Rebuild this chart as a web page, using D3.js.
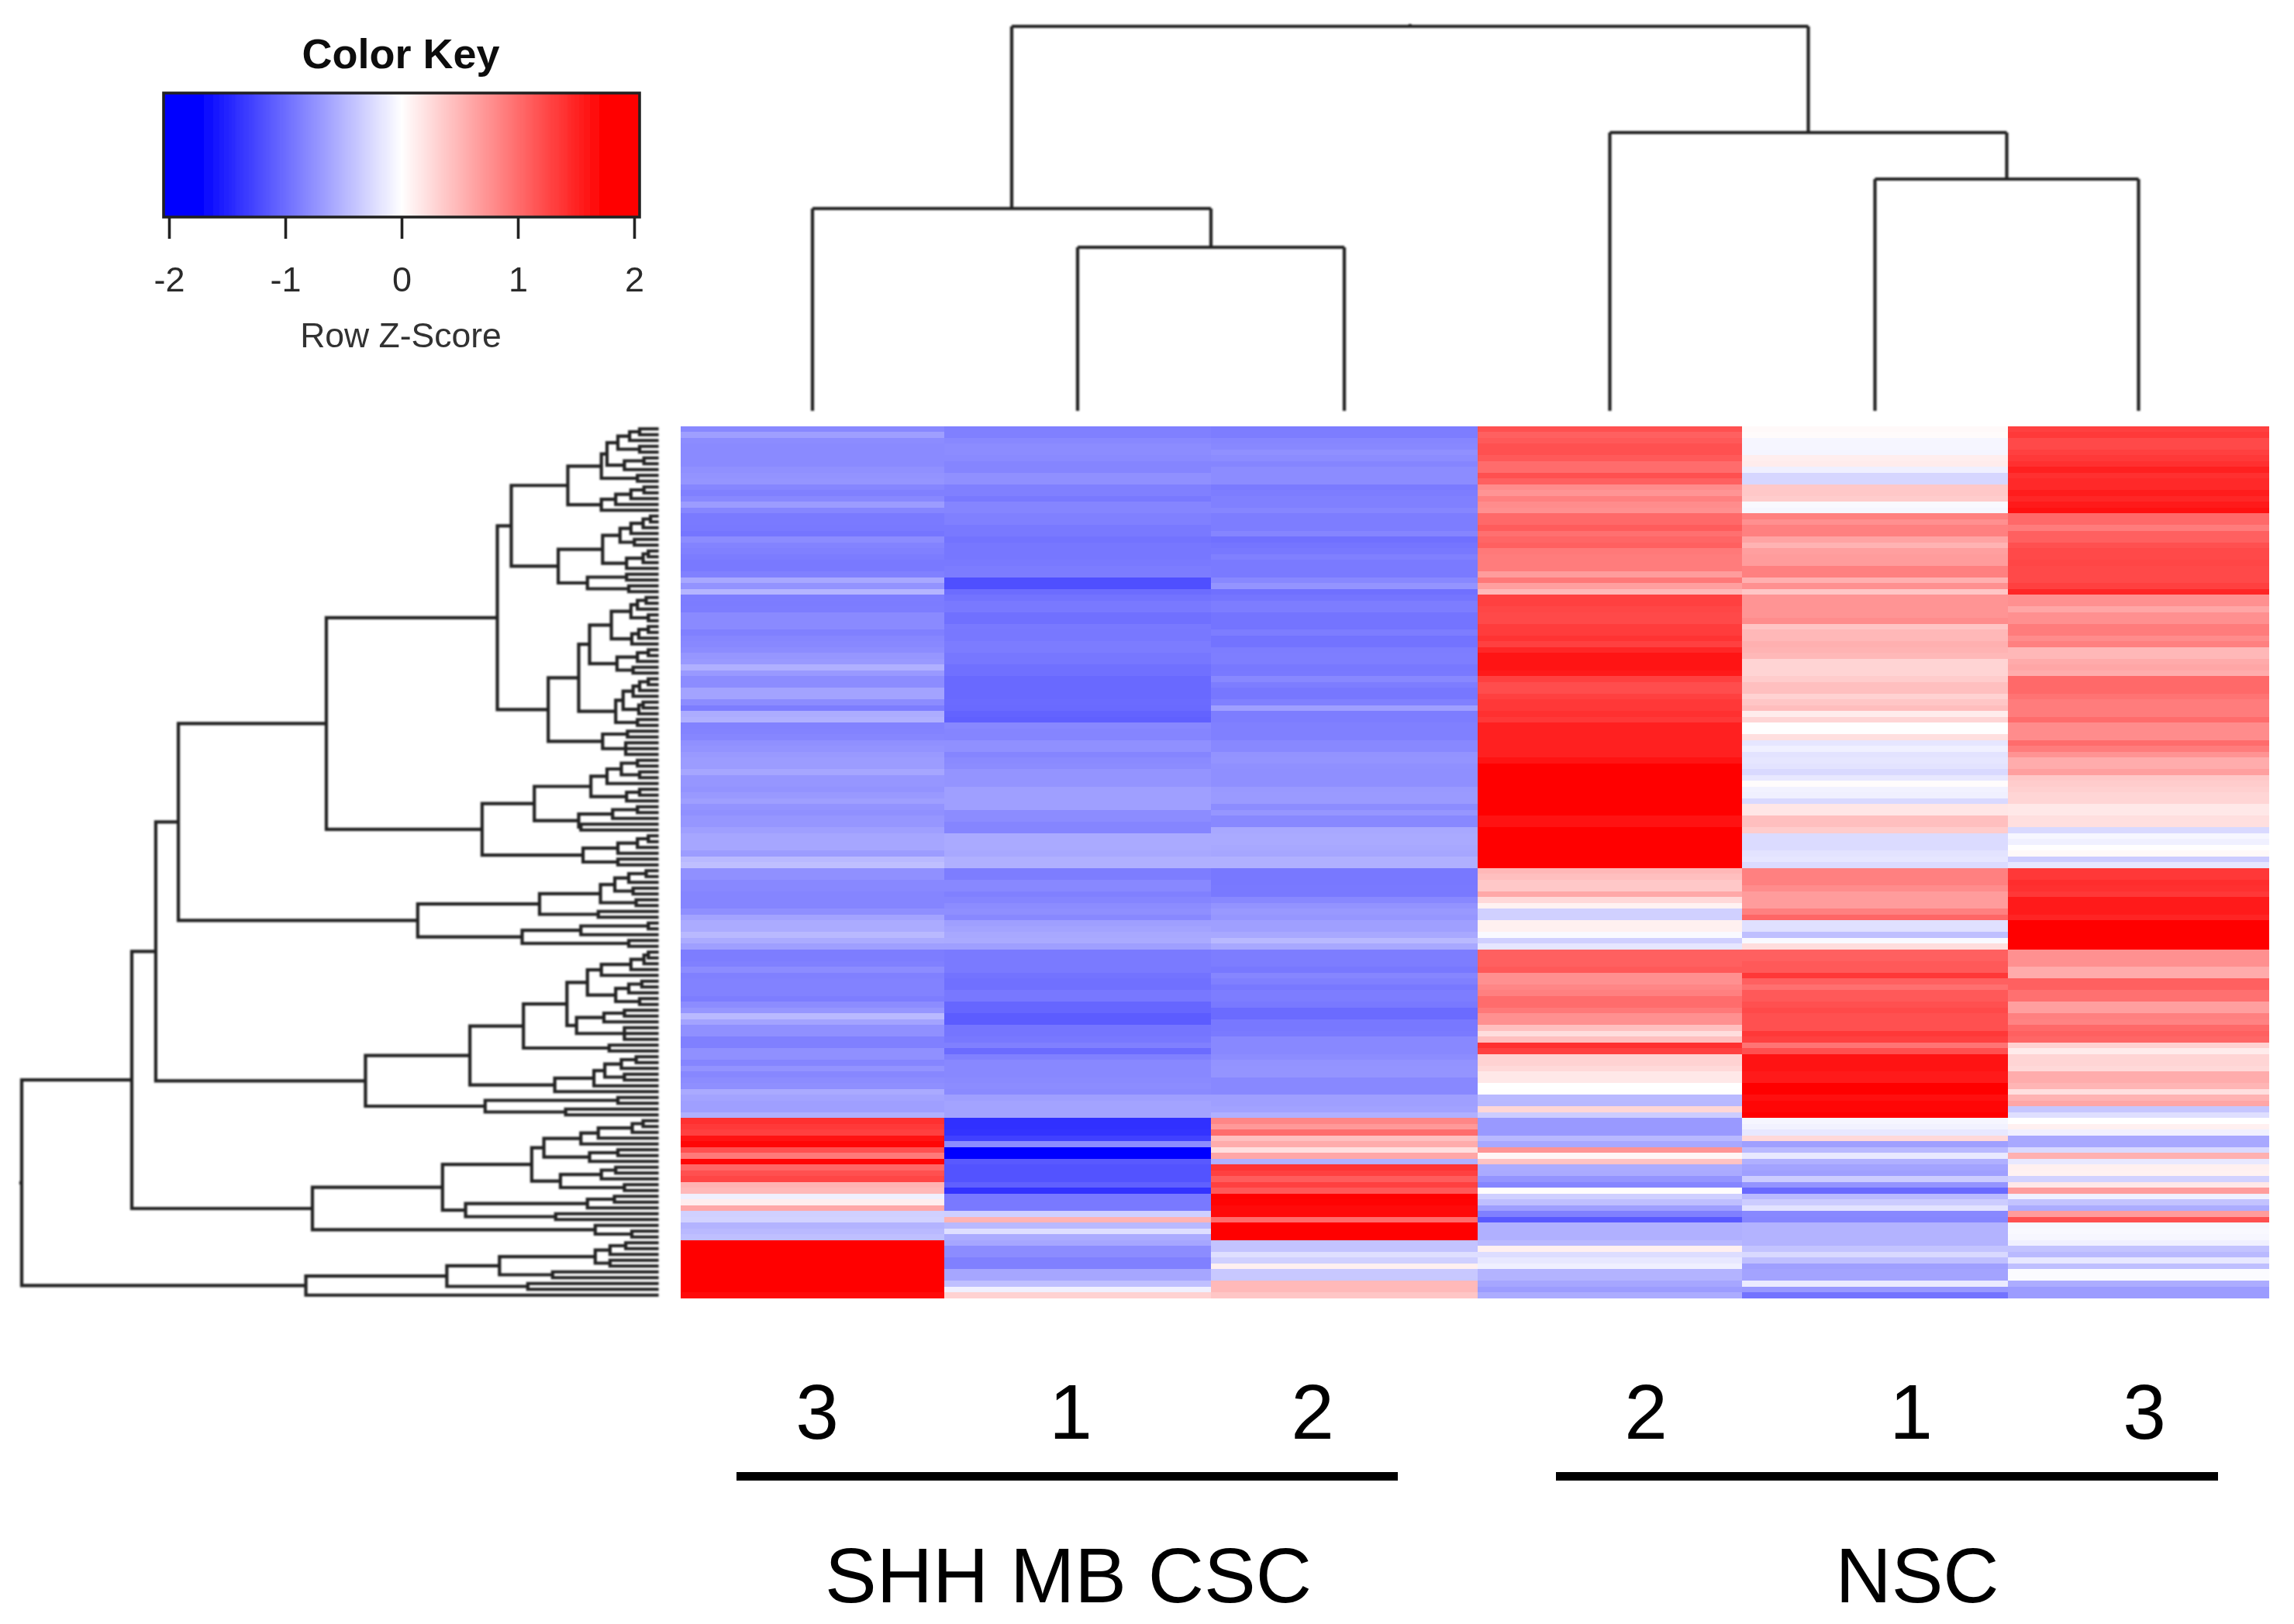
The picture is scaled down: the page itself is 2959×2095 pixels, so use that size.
<!DOCTYPE html>
<html><head><meta charset="utf-8">
<style>html,body{margin:0;padding:0;background:#fff}svg{display:block}</style>
<script src="https://d3js.org/d3.v7.min.js"></script></head>
<body><script>
// z-scores per sample, top row to bottom row
const shh3=[-.93,-.75,-.9,-.92,-.92,-.92,-.92,-.87,-.85,-.83,
-.95,-1,-.93,-.78,-.95,-1.04,-1.04,-1.05,-1.08,-.9,
-.97,-1,-1.03,-1.05,-1.05,-1,-.68,-.85,-.58,-1.02,
-1.03,-1.02,-.92,-.92,-.92,-1,-.95,-.93,-.9,-.82,
-.8,-.62,-.8,-.9,-.9,-.72,-.72,-.9,-1.02,-.65,
-.62,-.98,-.97,-.95,-.87,-.85,-.8,-.78,-.78,-.7,
-.82,-.82,-.85,-.8,-.75,-.85,-.87,-.82,-.82,-.75,
-.7,-.7,-.7,-.78,-.55,-.5,-.87,-.87,-.93,-.93,
-.96,-.96,-.96,-.88,-.72,-.66,-.66,-.55,-.66,-.75,
-1.02,-1.02,-1,-.9,-1,-.98,-.98,-.98,-1.02,-.9,
-.82,-.55,-.72,-.87,-.87,-1,-1,-.87,-.87,-.96,
-.85,-.94,-.9,-.88,-.67,-.72,-.75,-.75,-.62,1.62,
1.55,1.5,1.85,1.95,1.37,1.05,1.96,1.2,1.37,1.45,
.6,.55,-.12,.13,.68,-.37,-.35,-.6,-.55,-.5,
2,2,2,2,2,2,2,2,2,1.92];
const shh1=[-1,-1,-.93,-.9,-.9,-.92,-.96,-.96,-.87,-.87,
-1,-1,-1.05,-.96,-.96,-1,-1,-1.05,-1.05,-1.1,
-1.07,-1.07,-1.07,-1.05,-1.03,-1.03,-1.38,-1.38,-1.15,-1.1,
-1.05,-1.05,-1.12,-1.12,-1.05,-1.06,-1.06,-1.03,-1.03,-1.07,
-1.07,-1.12,-1.12,-1.18,-1.18,-1.18,-1.18,-1.16,-1.17,-1.22,
-1.25,-.93,-.96,-.96,-.87,-.87,-.96,-.92,-.9,-.84,
-.84,-.84,-.75,-.75,-.75,-.75,-.9,-.9,-.96,-.96,
-.67,-.67,-.67,-.68,-.62,-.62,-1.02,-1.02,-.93,-.93,
-1,-.96,-.9,-.88,-.93,-.75,-.72,-.68,-.67,-.75,
-1.04,-1.04,-1.04,-1.04,-1.1,-1.12,-1.12,-1.06,-1.06,-1.2,
-1.2,-1.28,-1.28,-1.08,-1.08,-1.06,-1,-1.16,-1,-.93,
-.93,-.93,-.92,-.9,-.92,-.75,-.72,-.72,-.72,-1.62,
-1.62,-1.6,-1.5,-.9,-2,-2,-1.3,-1.35,-1.35,-1.35,
-1.25,-1.6,-1.05,-1.05,-1.05,-.38,.6,-.55,-.25,-.65,
-.7,-.9,-.9,-1,-1,-.7,-.7,-.5,-.12,.35];
const shh2=[-1.02,-1.02,-.95,-.93,-.87,-.9,-.96,-.9,-.9,-.9,
-1.04,-1.02,-1,-1,-.95,-1.02,-1.02,-1.02,-.96,-1.12,
-1.08,-1.06,-1,-1.04,-1.04,-1.04,-.93,-.84,-1.12,-1.08,
-1.02,-1.02,-1.09,-1.09,-1.09,-1.02,-1.1,-1.1,-1.02,-1.01,
-1.01,-1.06,-1.05,-.93,-1.02,-1.07,-1.07,-1,-.75,-1.02,
-1.02,-1,-1,-1,-.93,-.93,-.85,-.84,-.87,-.88,
-.88,-.88,-.8,-.79,-.79,-.9,-.82,-.93,-.93,-.68,
-.67,-.67,-.68,-.7,-.62,-.62,-1.06,-1.06,-1.06,-1.05,
-1.05,-.93,-.85,-.8,-.82,-.75,-.75,-.68,-.55,-.68,
-1.02,-1.02,-1.02,-1.06,-.95,-1,-1.06,-1.02,-1.02,-1.05,
-1.16,-1.16,-1.06,-1.06,-1.04,-.93,-.93,-.93,-.9,-.85,
-.84,-.84,-.93,-.93,-.93,-.75,-.75,-.73,-.62,.95,
.8,1.15,.5,.65,.25,.7,-.62,1.6,1.5,1.28,
1.5,1.3,2,1.98,1.92,1.92,1.15,2,2,2,
-.47,-.47,-.25,-.37,.12,-.43,-.43,.55,.55,.45];
const nsc2=[1.37,1.25,1.3,1.37,1.37,1.3,1.15,1.15,1.37,1.25,
.9,.84,1,.9,.87,1.18,1.18,1.28,1.12,1.2,
1.25,1.05,1.03,1.03,1.03,.78,1.06,.75,.55,1.5,
1.5,1.45,1.43,1.43,1.53,1.53,1.6,1.5,1.7,1.84,
1.84,1.84,1.8,1.5,1.4,1.4,1.5,1.56,1.56,1.62,
1.56,1.75,1.75,1.75,1.75,1.75,1.75,1.85,2,2,
2,2,2,2,2,2,2,1.86,1.86,2,
2,2,2,2,2,2,.56,.5,.43,.43,
.68,.3,.1,-.37,-.37,.12,.12,-.05,-.37,-.2,
1.25,1.25,1.25,1.3,.87,.87,.95,1,1.15,1.15,
1.05,.87,.87,.5,.27,.5,1.62,1.5,.35,.35,
.3,.18,.18,0,.01,-.55,-.56,.32,-.4,-.8,
-.8,-.8,-.55,-.68,.84,.08,.47,-.65,-.67,-.84,
-.96,.02,-.38,-.5,-.75,-1,-1.3,-.62,-.62,-.62,
-.55,.12,-.27,-.18,-.12,-.6,-.6,-.7,-.78,-.65];
const nsc1=[.05,.03,-.07,-.07,-.08,.13,.15,-.12,-.32,-.32,
.43,.43,.4,-.05,-.07,1,.87,1,1,.72,
.6,.75,.78,.78,1,1,.62,.87,.45,.84,
.84,.84,.84,.9,.46,.56,.56,.62,.6,.56,
.34,.34,.34,.4,.5,.5,.35,.45,.52,.15,
.33,.01,.01,.25,-.2,-.12,-.22,-.2,-.22,-.3,
-.18,.02,-.1,-.12,-.3,.2,.2,.5,.5,.4,
-.28,-.28,-.28,-.22,-.2,-.28,1,1,1,.9,
.78,.78,.78,1,1.2,-.24,-.24,-.5,-.05,.27,
1.25,1.25,1.3,1.3,1.56,1.25,1.12,1.3,1.3,1.37,
1.43,1.37,1.37,1.37,1.56,1.5,1.09,1.37,1.85,1.85,
1.85,1.8,1.8,2,2,1.88,1.95,1.95,2,-.07,
-.1,-.18,.3,-.75,-.55,-.17,-.62,-.72,-.75,-.4,
-.84,-1.18,-.55,-.4,-.22,-.93,-.95,-.6,-.6,-.6,
-.6,-.47,-.3,-.5,-.75,-.72,-.72,-.16,-.8,-1.1];
const nsc3=[1.5,1.55,1.43,1.43,1.5,1.55,1.62,1.75,1.62,1.68,
1.68,1.78,1.7,1.8,1.87,1.18,1.18,1.03,1.25,1.25,
1.37,1.43,1.43,1.45,1.43,1.43,1.43,1.5,1.7,.87,
.87,.7,.87,.87,1.03,1.03,.9,1,.56,.56,
.66,.7,.65,1.18,1.18,1.18,1.1,1.03,1.03,1.03,
1.15,.9,.9,.9,1.15,1.03,.85,.65,.65,.75,
.43,.4,.37,.33,.33,.18,.18,.25,.25,-.3,
-.07,-.12,.01,.05,-.4,-.2,1.56,1.56,1.65,1.62,
1.56,1.8,1.8,1.8,1.72,2,2,2,2,2,
.87,.87,.87,.66,.66,1.25,1.25,1.12,1.12,.75,
.75,1,.97,1.18,1.25,1.2,.35,.15,.33,.33,
.3,.65,.65,.58,.25,.6,.7,-.45,-.25,0,
.12,-.12,-.68,-.68,-.3,.62,-.18,.12,.1,-.35,
.18,.78,-.12,-.47,-.65,.78,1.37,-.06,-.05,-.06,
-.12,-.47,-.55,-.18,-.5,-.03,-.03,-.65,-.78,-.78];
const columns=[shh3,shh1,shh2,nsc2,nsc1,nsc3];
const sampleLabels=["3","1","2","2","1","3"];
const groupLabels=["SHH MB CSC","NSC"];
const keyTicks=[-2,-1,0,1,2];

// row dendrogram: [height, a, b]; [height, n] = n leaves merged at that height; 1 = one leaf
const rowTree=[1460,
 [1207,
  [1152,
   [1100,
    [760,
     [367,
      [335,
       [205,
        [128,[115,[90,[63,[40,2],1],[40,2]],[75,[30,2],1]],[45,2]],
        [128,[95,[60,[30,2],1],1],1]],
       [227,[125,[85,[60,[32,[15,2],1],1],[52,2]],[70,[32,[20,2],1],1]],[160,[70,2],[65,2]]]],
      [250,
       [180,
        [155,[105,[60,[45,[25,2],1],[20,2]],[58,[42,[20,2],1],1]],[92,[45,[20,2],1],[55,2]]],
        [95,[78,[55,[40,[20,2],1],1],[42,[32,2],1]],[45,2]]],
       [125,[68,2],[72,3]]]],
     [402,
      [282,
       [152,[115,[82,[45,2],[40,2]],1],[70,[40,2],1]],
       [180,[102,[45,2],1],[175,2]]],
      [170,[90,[45,[20,2],1],1],[90,2]]]],
    [550,
     [270,[130,[97,[65,[25,2],1],[55,2]],[48,2]],[135,2]],
     [310,[175,[20,2],1],[65,2]]]],
   [670,
    [430,
     [307,
      [207,[160,[128,[60,[30,[20,2],1],1],1],[95,[65,[35,2],1],[40,2]]],[185,[122,[75,2],1],[75,3]]],
      [110,1,1]],
     [235,[145,[120,[82,[48,2],1],[75,2]],1],1]],
    [395,[90,2],[210,2]]]],
  [792,
   [493,
    [288,
     [260,[175,[135,[57,[32,2],1],1],1],[155,[90,2],1]],
     [222,[128,[95,2],1],[75,2]]],
    [440,[160,[98,2],1],[233,1,1]]],
   [142,1,[58,2]]]],
 [807,[483,[362,[142,[108,[72,2],1],[108,2]],[240,1,1]],[297,2]],1]];

// column dendrogram, same notation, leaves in column order
const colTree=[496,[261,1,[211,1,1]],[359,1,[299,1,1]]];

const W=2959,H=2095;
const svg=d3.select("body").append("svg").attr("width",W).attr("height",H).attr("viewBox",`0 0 ${W} ${H}`);
const defs=svg.append("defs");
defs.append("filter").attr("id","soft").append("feGaussianBlur").attr("stdDeviation",0.9);
defs.append("filter").attr("id","softer").append("feGaussianBlur").attr("stdDeviation",0.7);

const color=d3.scaleLinear().domain([-2,0,2]).range(["#0000ff","#ffffff","#ff0000"]).clamp(true);
const colX=d3.scaleLinear().domain([0,1,2,3,4,5,6]).range([878,1218,1562,1906,2247,2590,2927]);
const rowY=d3.scaleBand().domain(d3.range(shh3.length)).range([549.5,1674.5]);

// heatmap
svg.append("g").attr("shape-rendering","crispEdges").selectAll("g").data(columns).join("g")
 .each(function(vals,c){
  d3.select(this).selectAll("rect").data(vals).join("rect")
   .attr("x",colX(c)).attr("width",colX(c+1)-colX(c))
   .attr("y",(d,r)=>rowY(r)).attr("height",rowY.bandwidth()+0.3)
   .attr("fill",d=>color(d));
 });

// dendrograms
function layout(node,counter,posLeaf,posH,seg){
 if(node===1){const p=posLeaf(counter.i++);return {p,h:0};}
 if(node.length===2){
  const ps=d3.range(node[1]).map(()=>posLeaf(counter.i++));
  ps.forEach(p=>seg(node[0],p,0,p,"h"));
  seg(node[0],ps[0],node[0],ps[ps.length-1],"v");
  return {p:(ps[0]+ps[ps.length-1])/2,h:node[0]};
 }
 const a=layout(node[1],counter,posLeaf,posH,seg);
 const b=layout(node[2],counter,posLeaf,posH,seg);
 seg(node[0],a.p,node[0],b.p,"v");
 seg(node[0],a.p,a.h,a.p,"h");
 seg(node[0],b.p,b.h,b.p,"h");
 return {p:(a.p+b.p)/2,h:node[0]};
}
const rowH=d3.scaleLinear().domain([0,1460]).range([847.5,28]);
const rp=d3.path();
const rootRow=layout(rowTree,{i:0},i=>rowY(i)+rowY.bandwidth()/2,rowH,(h1,p1,h2,p2,k)=>{
 if(k==="v"){rp.moveTo(rowH(h1),p1);rp.lineTo(rowH(h1),p2);}
 else{rp.moveTo(rowH(h1),p1);rp.lineTo(rowH(h2),p2);}
});
rp.moveTo(rowH(1460),rootRow.p);rp.lineTo(rowH(1460)-1,rootRow.p);
svg.append("path").attr("d",rp.toString()).attr("fill","none").attr("stroke","#222")
 .attr("stroke-width",4.2).attr("stroke-linecap","square").attr("filter","url(#soft)");

const colH=d3.scaleLinear().domain([0,496]).range([530,34]);
const cp=d3.path();
const rootCol=layout(colTree,{i:0},i=>(colX(i)+colX(i+1))/2,colH,(h1,p1,h2,p2,k)=>{
 if(k==="v"){cp.moveTo(p1,colH(h1));cp.lineTo(p2,colH(h1));}
 else{cp.moveTo(p1,colH(h1));cp.lineTo(p2,colH(h2));}
});
cp.moveTo(rootCol.p,colH(496));cp.lineTo(rootCol.p,colH(496)-3);
svg.append("path").attr("d",cp.toString()).attr("fill","none").attr("stroke","#222")
 .attr("stroke-width",4.2).attr("filter","url(#soft)");

// colour key
const keyX=d3.scaleLinear().domain([-2,2]).range([218,818]);
const keyGain=1.15;
const key=svg.append("g").attr("filter","url(#softer)");
const keyLo=keyX.invert(211),keyHi=keyX.invert(825);
const steps=d3.range(307);
const stepV=d3.scaleLinear().domain([0,307]).range([keyLo,keyHi]);
key.append("g").attr("shape-rendering","crispEdges").selectAll("rect").data(steps).join("rect")
 .attr("x",d=>keyX(stepV(d))).attr("width",d=>keyX(stepV(d+1))-keyX(stepV(d))+0.5)
 .attr("y",120).attr("height",160).attr("fill",d=>color(stepV(d+.5)*keyGain));
key.append("rect").attr("x",211).attr("y",120).attr("width",614).attr("height",160)
 .attr("fill","none").attr("stroke","#222").attr("stroke-width",3.6);
const axis=d3.axisBottom(keyX).tickValues(keyTicks).tickSize(28).tickPadding(36).tickFormat(d3.format("d"));
const ag=key.append("g").attr("transform","translate(0,280)").call(axis);
ag.select(".domain").remove();
ag.selectAll("line").attr("stroke","#222").attr("stroke-width",3.6);
ag.selectAll("text").attr("font-family","'Liberation Sans',Arial,sans-serif").attr("font-size",45).attr("fill","#2a2a2a").text(d=>d<0?"-"+(-d):d);
key.append("text").attr("x",517).attr("y",88).attr("text-anchor","middle")
 .attr("font-family","'Liberation Sans',Arial,sans-serif").attr("font-weight","bold").attr("font-size",54).attr("fill","#111").text("Color Key");
key.append("text").attr("x",517).attr("y",448).attr("text-anchor","middle")
 .attr("font-family","'Liberation Sans',Arial,sans-serif").attr("font-size",44.5).attr("fill","#333").text("Row Z-Score");

// lower annotation
const labelX=[1054,1381,1693,2123,2465,2766];
const font="'Liberation Sans',Arial,sans-serif";
svg.append("g").selectAll("text").data(sampleLabels).join("text")
 .attr("x",(d,i)=>labelX[i]).attr("y",1856).attr("text-anchor","middle")
 .attr("font-family",font).attr("font-size",100).attr("fill","#000").text(d=>d);
const groupX=[[950,1803],[2007,2861]],groupC=[1378,2473];
svg.append("g").selectAll("rect").data(groupX).join("rect")
 .attr("x",d=>d[0]).attr("width",d=>d[1]-d[0]).attr("y",1899).attr("height",11).attr("fill","#000");
svg.append("g").selectAll("text").data(groupLabels).join("text")
 .attr("x",(d,i)=>groupC[i]).attr("y",2067).attr("text-anchor","middle")
 .attr("font-family",font).attr("font-size",100).attr("fill","#000").text(d=>d);
</script></body></html>
